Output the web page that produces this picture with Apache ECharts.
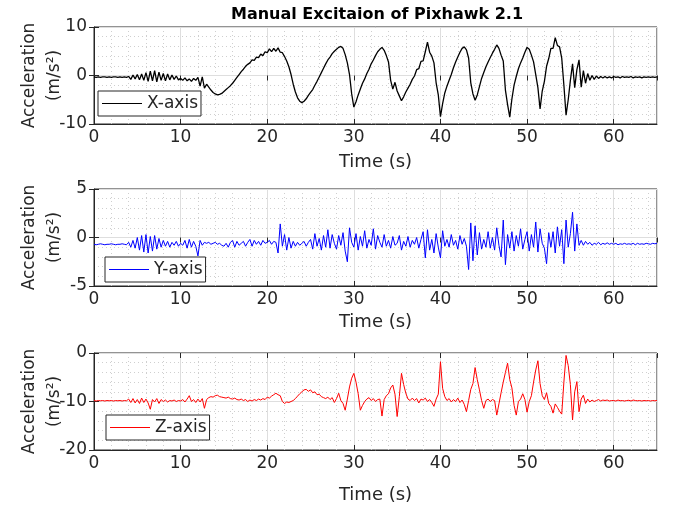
<!DOCTYPE html>
<html>
<head>
<meta charset="utf-8">
<script src="https://cdn.jsdelivr.net/npm/echarts@6/dist/echarts.min.js"></script>
<style>
  html, body { margin: 0; padding: 0; background: #fff; }
  #chart { width: 673px; height: 510px; }
</style>
</head>
<body>
<div id="chart"></div>
<script>
// sample step (s) of the values below
var dt = 0.25;

var xAxisAcc = [
  -0.3,-0.4,-0.3,-0.4, -0.3,-0.3,-0.4,-0.3, -0.4,-0.3,-0.3,-0.4, -0.3,-0.4,-0.3,-0.4,
  -0.2,-0.8,0.1,-0.7,
  0.2,-0.9,0.3,-1.0,
  0.6,-1.2,0.9,-1.1,
  1.0,-1.3,0.7,-1.0,
  0.4,-1.1,0.3,-0.9,
  0.1,-0.8,-0.1,-0.9,
  -0.6,-1.0,-0.5,-1.1,
  -0.7,-1.2,-0.6,-1.0,
  -0.4,-2.2,-0.3,-2.6,
  -1.8,-2.4,-3.0,-3.5,
  -3.8,-4.0,-3.9,-3.7,
  -3.3,-2.9,-2.5,-2.1,
  -1.6,-1.0,-0.4,0.2,
  0.8,1.3,1.9,2.3,
  2.6,3.2,3.1,3.8,
  3.7,4.4,4.1,4.9,
  4.7,5.5,4.9,5.6,
  5.0,5.7,4.8,4.7,
  3.9,3.0,1.8,0.2,
  -1.8,-3.4,-4.6,-5.3,
  -5.6,-5.3,-4.8,-4.1,
  -3.5,-2.9,-2.0,-1.2,
  -0.3,0.6,1.5,2.4,
  3.2,3.8,4.5,5.0,
  5.4,5.8,6.0,5.6,
  4.3,2.6,0.2,-3.8,
  -6.5,-5.4,-4.0,-2.8,
  -1.6,-0.7,0.4,1.3,
  2.4,3.2,4.1,4.9,
  5.4,5.8,5.2,4.1,
  2.8,-1.0,-2.8,-1.4,
  -3.2,-4.2,-5.2,-4.4,
  -3.4,-2.6,-1.8,-0.8,
  -0.1,1.2,1.4,2.9,
  3.0,4.9,6.9,4.8,
  4.0,2.6,-1.5,-4.0,
  -8.5,-5.8,-3.6,-2.2,
  -1.0,0.2,1.6,2.8,
  3.8,4.8,5.6,5.9,
  5.3,3.6,-1.5,-3.8,
  -5.1,-4.0,-2.3,-0.6,
  0.6,1.8,2.8,3.7,
  4.6,5.4,6.3,5.6,
  4.2,3.0,-3.0,-6.0,
  -8.6,-4.8,-2.0,-0.2,
  1.4,2.6,3.6,4.8,
  5.8,5.4,4.2,2.8,
  0.2,-2.5,-6.9,-3.2,
  -1.2,1.9,3.5,5.6,
  5.6,7.8,6.2,5.9,
  3.6,-2.0,-8.2,-5.0,
  -1.0,2.4,-2.5,1.2,
  3.2,-2.4,1.0,-1.6,
  0.4,-1.0,0.0,-0.8,
  -0.1,-0.6,-0.2,-0.5,
  -0.2,-0.5,-0.3,-0.5,
  -0.2,-0.4,-0.3,-0.5,
  -0.2,-0.4,-0.3,-0.4,
  -0.2,-0.5,-0.3,-0.4,
  -0.3,-0.5,-0.3,-0.4,
  -0.3,-0.4,-0.3,-0.4,
  -0.3
];

var yAxisAcc = [
  -0.7,-0.75,-0.7,-0.65, -0.7,-0.75,-0.7,-0.7, -0.65,-0.7,-0.75,-0.7, -0.7,-0.65,-0.7,-0.75,
  -0.5,-1.0,-0.3,-1.1,
  0.0,-1.3,0.2,-1.5,
  0.3,-1.6,0.1,-1.4,
  0.2,-1.2,-0.1,-1.0,
  -0.3,-0.9,-0.4,-1.0,
  -0.5,-0.8,-0.4,-0.9,
  -0.6,-0.8,-0.3,-1.1,
  -0.2,-1.0,-0.4,-0.9,
  -1.9,-0.3,-0.8,-0.5,
  -0.6,-0.5,-0.7,-0.6,
  -0.5,-0.7,-0.6,-0.8,
  -0.9,-0.6,-1.0,-0.5,
  -0.3,-1.0,-0.4,-0.8,
  -0.6,-0.4,-0.9,-0.5,
  -0.2,-0.9,-0.3,-0.7,
  -0.4,-0.8,-0.3,-0.6,
  -0.5,-0.3,-0.7,-0.4,
  -0.5,-1.6,1.4,-0.9,
  0.3,-1.3,0.0,-1.1,
  -0.4,-0.9,-0.5,-0.8,
  -0.6,-0.4,-0.9,-0.5,
  -0.2,-1.2,0.4,-0.9,
  -0.1,-1.3,0.2,-1.0,
  0.8,-1.1,0.3,-0.6,
  -1.2,0.2,-0.8,0.5,
  -1.4,-2.5,1.0,-0.5,
  -1.0,0.4,-1.3,0.1,
  -0.9,0.7,-1.1,-0.2,
  -0.8,0.9,-1.2,0.2,
  -0.5,-1.0,0.3,-0.9,
  -0.3,-1.1,0.1,-0.8,
  -0.6,0.2,-1.3,-0.4,
  -0.9,0.1,-1.0,-0.3,
  -0.7,0.0,-1.1,-0.2,
  0.6,-2.1,0.8,-1.3,
  -0.2,-1.6,0.4,-1.0,
  -2.1,0.7,-0.9,-0.2,
  -1.0,0.3,-0.8,-0.3,
  -1.2,0.2,-0.7,-0.1,
  -0.9,-3.3,1.5,-2.4,
  1.2,-1.8,0.5,-1.2,
  -0.2,-1.0,0.6,-1.1,
  0.0,-1.3,1.0,-0.8,
  -2.0,1.8,-2.8,0.3,
  -1.1,0.6,-1.4,0.2,
  -0.9,0.9,-1.2,-0.2,
  0.6,-1.4,0.3,-1.0,
  1.6,-1.5,0.9,-0.6,
  -1.1,-2.7,0.5,-1.0,
  0.6,-1.6,1.1,-0.9,
  0.8,-2.7,1.8,-1.0,
  0.4,2.6,-1.4,1.4,
  -0.8,-0.3,-0.8,-0.4,
  -0.7,-0.5,-0.8,-0.6,
  -0.7,-0.5,-0.75,-0.6,
  -0.7,-0.55,-0.7,-0.6,
  -0.7,-0.6,-0.75,-0.65,
  -0.7,-0.6,-0.7,-0.65,
  -0.7,-0.6,-0.75,-0.6,
  -0.7,-0.65,-0.7,-0.6,
  -0.65,-0.7,-0.6,-0.65,
  -0.6
];

var zAxisAcc = [
  -9.8,-9.9,-9.8,-9.85, -9.8,-9.9,-9.8,-9.85, -9.8,-9.9,-9.8,-9.85, -9.8,-9.9,-9.8,-9.85,
  -9.5,-10.2,-9.4,-10.3,
  -9.6,-10.4,-9.3,-10.2,
  -9.5,-10.3,-11.6,-9.6,
  -10.1,-9.4,-10.4,-9.6,
  -10.0,-9.7,-10.1,-9.8,
  -9.9,-9.7,-10.0,-9.8,
  -9.9,-9.6,-10.1,-9.5,
  -8.8,-10.0,-9.6,-10.2,
  -9.5,-10.1,-9.4,-11.4,
  -9.6,-9.2,-9.0,-9.1,
  -8.8,-8.7,-9.0,-9.1,
  -9.2,-9.3,-9.1,-9.4,
  -9.5,-9.3,-9.6,-9.7,
  -9.5,-9.8,-9.6,-10.0,
  -9.7,-9.9,-9.6,-9.8,
  -9.5,-9.7,-9.4,-9.6,
  -9.1,-9.3,-8.9,-8.6,
  -8.3,-8.6,-8.8,-10.0,
  -10.4,-10.1,-10.2,-10.0,
  -9.8,-9.4,-8.9,-8.4,
  -8.0,-7.6,-7.5,-7.9,
  -7.6,-8.2,-8.0,-8.6,
  -8.5,-9.0,-9.2,-9.4,
  -9.1,-9.6,-9.2,-10.2,
  -9.4,-8.3,-9.8,-10.4,
  -11.8,-9.5,-7.0,-5.2,
  -4.2,-6.0,-8.4,-11.8,
  -10.8,-10.0,-9.5,-9.2,
  -9.8,-9.4,-10.0,-9.6,
  -9.5,-13.0,-9.6,-8.8,
  -8.4,-7.2,-6.6,-8.5,
  -13.1,-9.0,-4.2,-6.5,
  -8.3,-9.5,-9.8,-9.3,
  -9.8,-9.4,-10.3,-9.5,
  -9.7,-9.3,-10.0,-9.6,
  -10.2,-11.0,-9.5,-8.5,
  -1.8,-7.3,-9.0,-9.8,
  -9.4,-10.1,-9.6,-10.0,
  -9.3,-10.2,-9.7,-10.6,
  -12.1,-9.8,-7.5,-6.3,
  -3.0,-5.5,-7.6,-9.8,
  -11.4,-9.8,-9.5,-10.0,
  -9.6,-9.8,-12.8,-10.5,
  -8.2,-6.0,-4.0,-2.1,
  -5.5,-7.2,-10.8,-12.8,
  -10.0,-9.5,-8.4,-9.6,
  -12.2,-10.0,-8.8,-6.0,
  -3.5,-1.6,-6.3,-8.8,
  -9.6,-8.2,-10.4,-11.0,
  -12.4,-10.5,-11.2,-12.0,
  -12.6,-6.0,-0.5,-2.6,
  -6.5,-13.8,-8.0,-5.9,
  -12.1,-9.5,-8.7,-10.4,
  -9.5,-10.1,-9.7,-10.0,
  -9.8,-9.6,-9.9,-9.7,
  -9.8,-9.7,-9.9,-9.8,
  -9.8,-9.9,-9.7,-9.85,
  -9.8,-9.9,-9.8,-9.75,
  -9.9,-9.7,-9.8,-9.85,
  -9.8,-9.9,-9.8,-9.85,
  -9.8,-9.9,-9.8,-9.85,
  -9.8
];

var seriesNames = ['X-axis', 'Y-axis', 'Z-axis'];
var seriesColors = ['#000000', '#0000ff', '#ff0000'];
var yRanges = [[-10, 10, 10], [-5, 5, 5], [-20, 0, 10]];
var allData = [xAxisAcc, yAxisAcc, zAxisAcc];

var font = 'DejaVu Sans';
var ink = '#262626';
var gridTops = [27, 189, 353];
var timeNameGaps = [29, 27, 36];
var legendTops = [91, 257, 415];
var legendLefts = [98, 105, 106];

function withTime(arr) {
    return arr.map(function (v, i) { return [i * dt, v]; });
}

var grids = [], xAxes = [], yAxes = [], series = [], legends = [];

for (var k = 0; k < 3; k++) {
    grids.push({
        left: 94, width: 563, top: gridTops[k], height: 97,
        show: true, borderColor: ink, borderWidth: 1, backgroundColor: '#fff'
    });
    xAxes.push({
        type: 'value', gridIndex: k, min: 0, max: 65, interval: 10, z: 1,
        name: 'Time (s)', nameLocation: 'middle', nameGap: timeNameGaps[k], nameMoveOverlap: false,
        nameTextStyle: { fontFamily: font, fontSize: 18, color: ink },
        axisLine: { show: true, onZero: false, lineStyle: { color: ink } },
        axisTick: { show: true, inside: true, length: 5, lineStyle: { color: ink } },
        axisLabel: { fontFamily: font, fontSize: 17, color: ink, margin: 5, showMaxLabel: false },
        splitLine: { show: true, lineStyle: { color: '#dedede', width: 1 } }
    });
    yAxes.push({
        type: 'value', gridIndex: k, min: yRanges[k][0], max: yRanges[k][1], interval: yRanges[k][2], z: 1,
        name: 'Acceleration\n(m/s²)', nameLocation: 'middle', nameGap: 27, nameMoveOverlap: false,
        nameTextStyle: { fontFamily: font, fontSize: 17, color: ink, lineHeight: 25 },
        axisLine: { show: true, onZero: false, lineStyle: { color: ink } },
        axisTick: { show: true, inside: true, length: 5, lineStyle: { color: ink } },
        axisLabel: { fontFamily: font, fontSize: 17, color: ink, margin: 7 },
        splitLine: { show: true, lineStyle: { color: '#dedede', width: 1 } },
        minorTick: { show: false, splitNumber: 5 },
        minorSplitLine: { show: true, lineStyle: { color: '#cfcfcf', width: 1, type: [1, 3] } }
    });
    series.push({
        type: 'line', name: seriesNames[k], xAxisIndex: k, yAxisIndex: k,
        data: withTime(allData[k]),
        showSymbol: false, symbol: 'none',
        lineStyle: { color: seriesColors[k], width: k === 0 ? 1.3 : 1 },
        itemStyle: { color: seriesColors[k] },
        z: 3
    });
    legends.push({
        data: [seriesNames[k]],
        left: legendLefts[k], top: legendTops[k],
        orient: 'vertical',
        backgroundColor: '#fff', borderColor: ink, borderWidth: 1,
        padding: [4, 3, 4, 4],
        icon: 'rect', itemWidth: 40, itemHeight: 1, itemGap: 4,
        textStyle: { fontFamily: font, fontSize: 17, color: ink },
        selectedMode: false
    });
}

// minor dotted grid lines along time every 2 s
for (var m = 0; m < 3; m++) {
    xAxes.push({
        type: 'value', gridIndex: m, min: 0, max: 65, interval: 2, z: 0,
        axisLine: { show: false }, axisTick: { show: false }, axisLabel: { show: false },
        splitLine: { show: true, lineStyle: { color: '#cfcfcf', width: 1, type: [1, 3] } }
    });
}

// mirrored inward ticks on the top and right edges of each box
for (var b = 0; b < 3; b++) {
    xAxes.push({
        type: 'value', gridIndex: b, position: 'top', min: 0, max: 65, interval: 10, z: 1,
        axisLine: { show: false },
        axisTick: { show: true, inside: true, length: 5, lineStyle: { color: ink } },
        axisLabel: { show: false }, splitLine: { show: false }
    });
    yAxes.push({
        type: 'value', gridIndex: b, position: 'right', min: yRanges[b][0], max: yRanges[b][1], interval: yRanges[b][2], z: 1,
        axisLine: { show: false },
        axisTick: { show: true, inside: true, length: 5, lineStyle: { color: ink } },
        axisLabel: { show: false }, splitLine: { show: false }
    });
}

var chart = echarts.init(document.getElementById('chart'), null, { renderer: 'canvas' });
chart.setOption({
    animation: false,
    backgroundColor: '#fff',
    title: {
        text: 'Manual Excitaion of Pixhawk 2.1',
        left: 226, top: 2,
        textStyle: { fontFamily: font, fontSize: 16, fontWeight: 'bold', color: '#000' }
    },
    legend: legends,
    grid: grids,
    xAxis: xAxes,
    yAxis: yAxes,
    series: series
});
</script>
</body>
</html>
